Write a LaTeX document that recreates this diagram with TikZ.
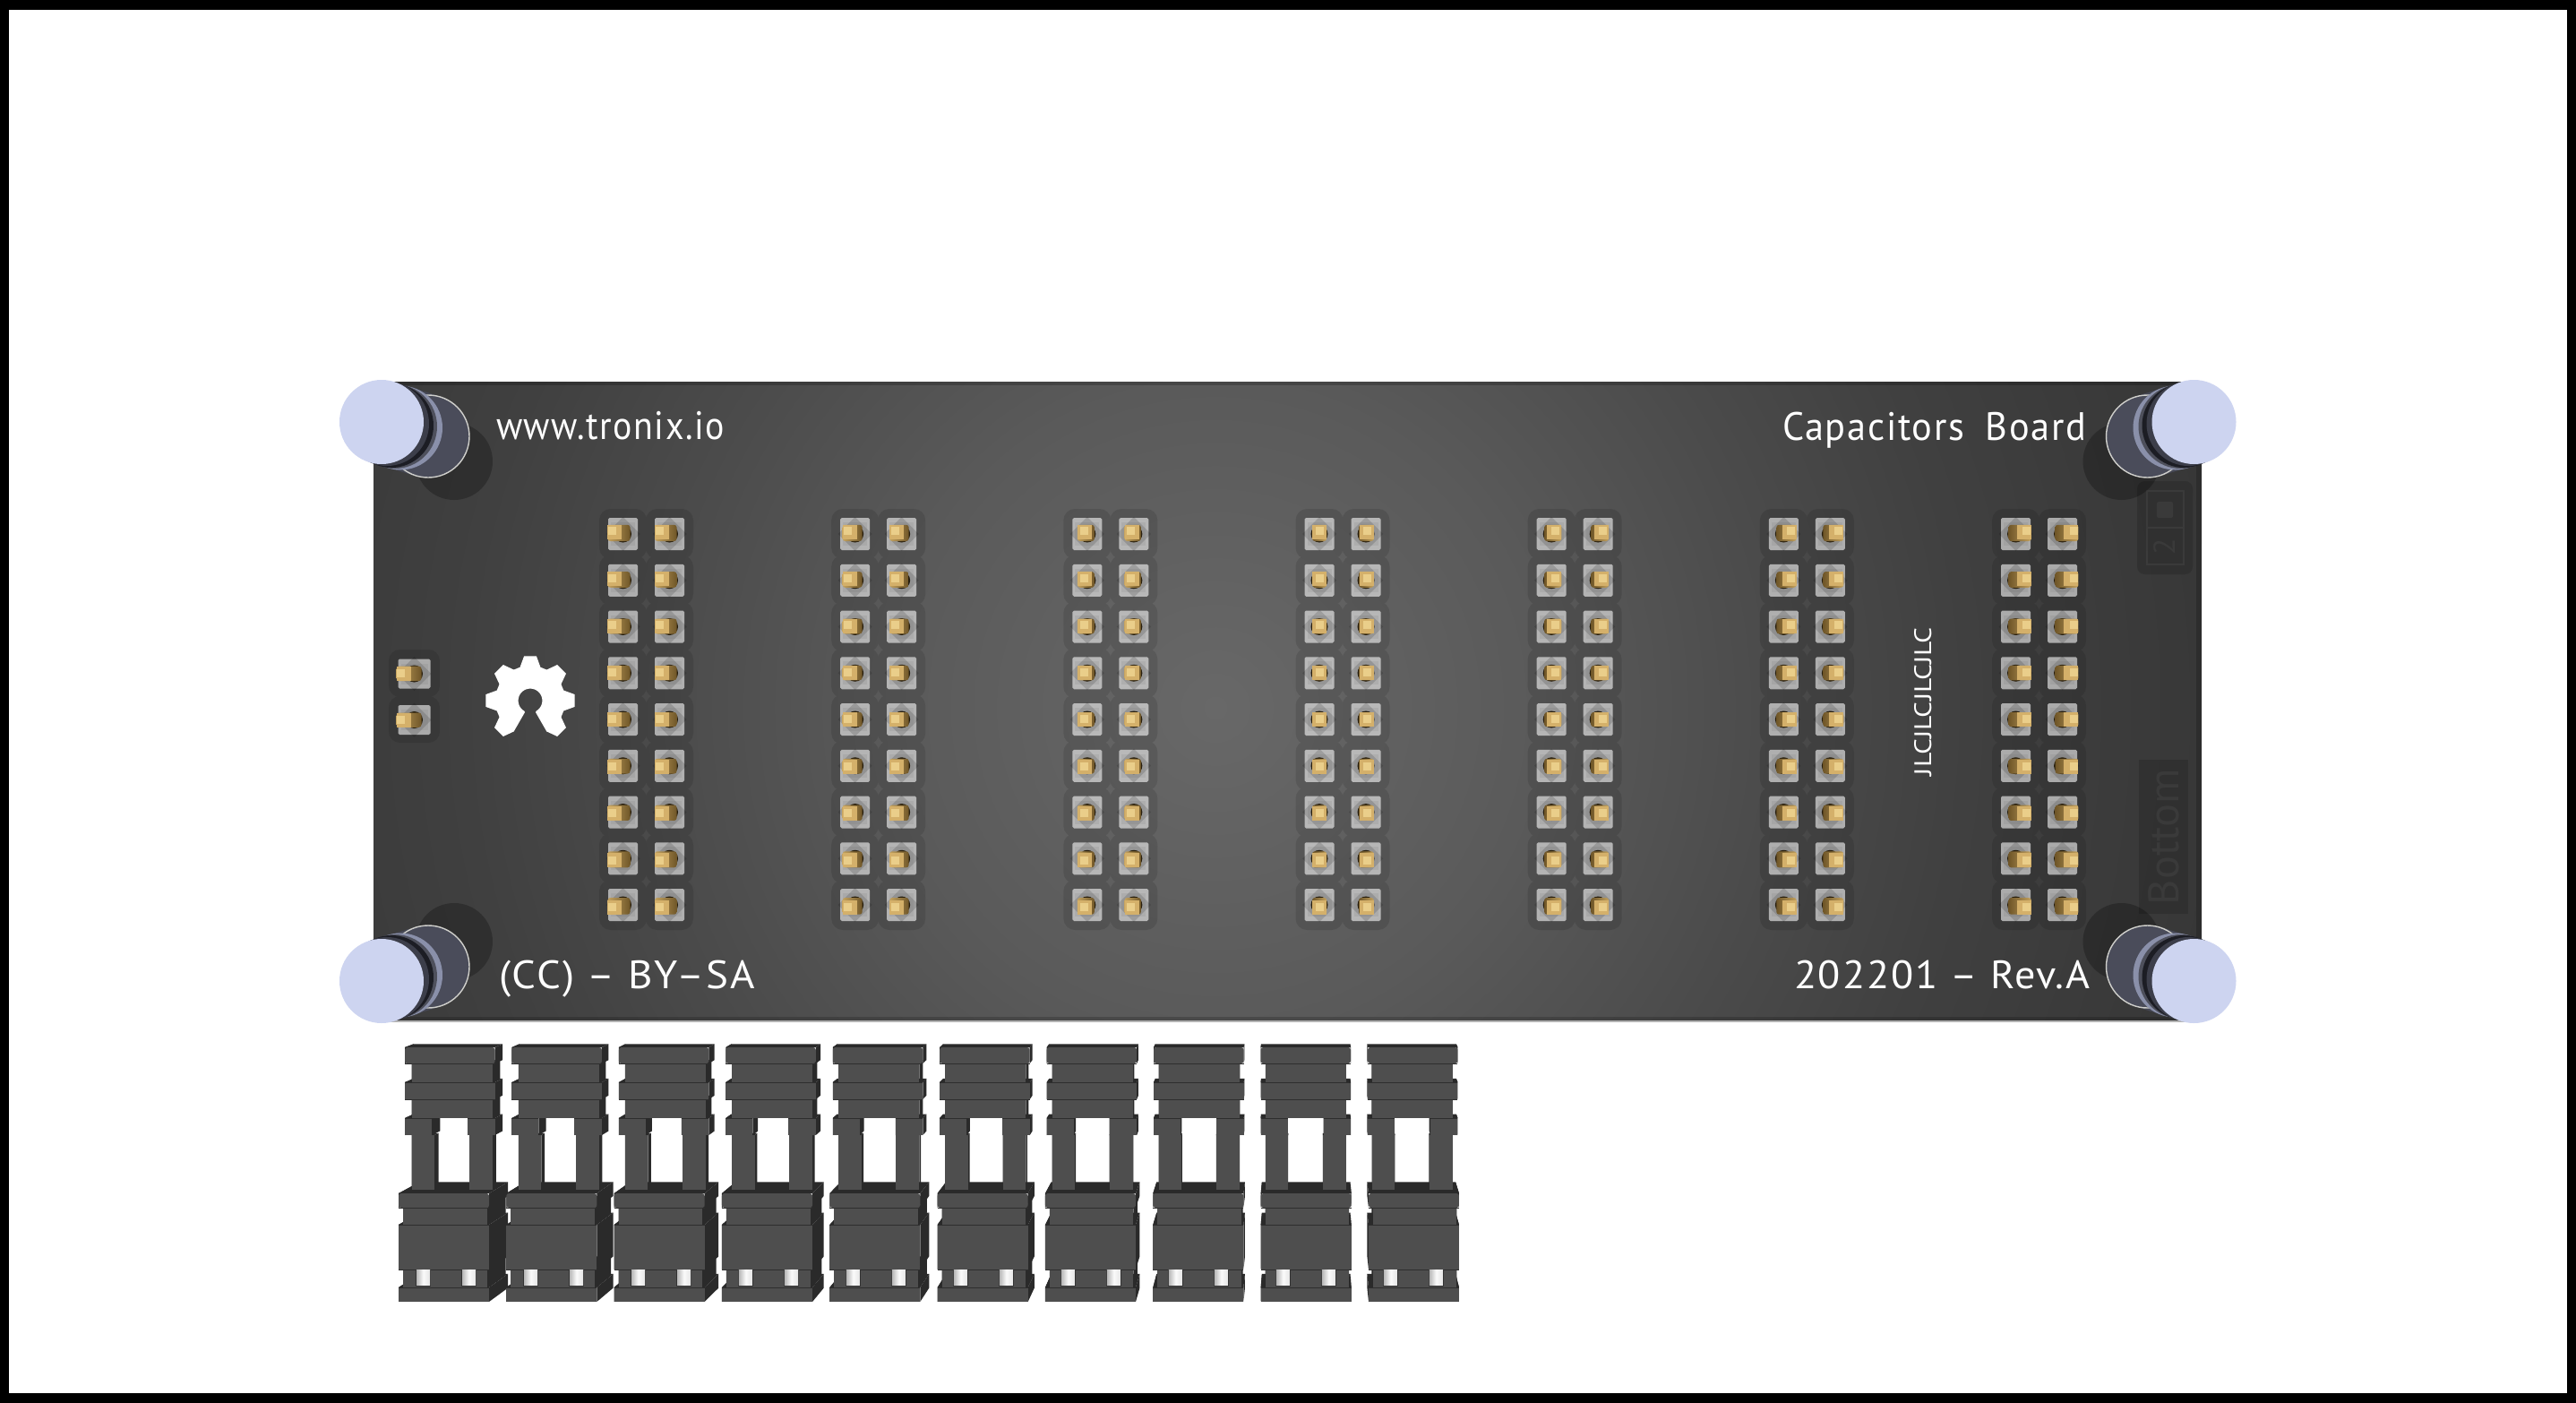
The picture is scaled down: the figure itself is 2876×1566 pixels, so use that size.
\documentclass[tikz,border=0pt]{standalone}
\usepackage{fontspec}
\usepackage{graphicx}
\setmainfont{PT Sans}
\newlength{\pxu}\setlength{\pxu}{0.25mm}
\definecolor{c0}{HTML}{686868}\definecolor{c1}{HTML}{5A5A5A}\definecolor{c2}{HTML}{4B4B4B}
\definecolor{c3}{HTML}{404040}\definecolor{c4}{HTML}{383838}\definecolor{c5}{HTML}{343434}
\definecolor{capblue}{HTML}{CDD4F0}\definecolor{frontgray}{HTML}{4E4E4E}\definecolor{sidegray}{HTML}{2A2A2A}
\definecolor{goldA}{HTML}{C4A25E}\definecolor{goldB}{HTML}{6F5628}\definecolor{goldC}{HTML}{D4B06A}\definecolor{goldD}{HTML}{EACE8A}
\pgfdeclareradialshading{boardglow}{\pgfpointorigin}{color(0bp)=(c0);color(7.5bp)=(c1);color(13bp)=(c2);color(17.5bp)=(c3);color(23bp)=(c4);color(25bp)=(c5);color(50bp)=(c5)}
\tikzset{
  silk/.style={text=white,inner sep=0pt,outer sep=0pt,font=\fontsize{31.4}{36}\selectfont\addfontfeature{LetterSpace=4}},
  ghost/.style={text=ghosttext,inner sep=0pt,outer sep=0pt},
  haloshade/.style={fill=black,fill opacity=.11},
  padface/.style={fill=white,fill opacity=.58},
  padinner/.style={fill=black,fill opacity=.05},
  paddiamond/.style={fill=black,fill opacity=.14},
  hull/.style={fill=sidegray},
  front/.style={fill=frontgray},
  seam/.style={draw=black!82,line width=.5pt},
}
\definecolor{ghosttext}{HTML}{3A3A3A}
\newcommand{\fitw}[2]{\resizebox{#1\pxu}{\height}{#2}}
% pad with gold pin: centre x, centre y, half width, half height
\newcommand{\padpin}[4]{%
  \fill[padface,rounded corners=1.2pt] ({#1-#3},{#2-#4}) rectangle ({#1+#3},{#2+#4});
  \fill[padinner] ({#1-#3+3},{#2-#4+5}) rectangle ({#1+#3-3},{#2+#4-5});
  \fill[paddiamond] ({#1-19},{#2}) -- ({#1},{#2-19}) -- ({#1+19},{#2}) -- ({#1},{#2+19}) -- cycle;
  \pgfmathsetmacro\pdx{.0118*(#1-1460)}\pgfmathsetmacro\pdy{.0118*(#2-783)}
  \pgfmathsetmacro\ptx{#1+\pdx}\pgfmathsetmacro\pty{#2+\pdy}
  \pgfmathsetmacro\pxl{min(#1,\ptx)-8}\pgfmathsetmacro\pxr{max(#1,\ptx)+8}
  \pgfmathsetmacro\pyt{min(#2,\pty)-8}\pgfmathsetmacro\pyb{max(#2,\pty)+8}
  \pgfmathsetmacro\brx{\ptx+.3*\pdx}\pgfmathsetmacro\bry{\pty+.3*\pdy-.5}
  \fill[goldB!35!black] (#1,#2) circle[radius=9.5];
  \ifdim\pdx pt<0pt
    \shade[left color=goldA,right color=goldB,rounded corners=2pt] (\pxl,\pyt) rectangle (\pxr,\pyb);
  \else
    \shade[left color=goldB,right color=goldA,rounded corners=2pt] (\pxl,\pyt) rectangle (\pxr,\pyb);
  \fi
  \fill[goldC] ({\ptx-8},{\pty-8}) rectangle ({\ptx+8},{\pty+8});
  \fill[goldD] ({\brx-4.5},{\bry-4.5}) rectangle ({\brx+4.5},{\bry+4.5});
}
% standoff: cap centre, mirror signs
\newcommand{\standoff}[4]{%
  \fill[black,opacity=.25] ({#1+#3*81},{#2+#4*44}) circle[radius=43];
  \foreach \t in {.9,.8,.7,.6,.5,.4} {\fill[fill=standhull] ({#1+#3*52*\t},{#2+#4*16*\t}) circle[radius=46.5];}
  \fill[fill=standbase,draw=standedge,line width=1pt] ({#1+#3*52},{#2+#4*16}) circle[radius=46];
  \fill[fill=standlilac] ({#1+#3*21},{#2+#4*6.5}) circle[radius=47];
  \fill[fill=standgrey] ({#1+#3*15},{#2+#4*5}) circle[radius=47];
  \fill[fill=standblack] ({#1+#3*11},{#2+#4*4}) circle[radius=47];
  \fill[fill=standdark] ({#1+#3*6},{#2+#4*2}) circle[radius=47];
  \fill[fill=capblue] (#1,#2) circle[radius=47];
}
\definecolor{standhull}{HTML}{454754}\definecolor{standbase}{HTML}{4A4C5A}\definecolor{standedge}{HTML}{CFCFCB}
\definecolor{standlilac}{HTML}{8A90AA}\definecolor{standgrey}{HTML}{4E505C}\definecolor{standblack}{HTML}{1C1D24}\definecolor{standdark}{HTML}{3C3E4A}
% extruded hull of a rectangle: x1,y1,x2,y2,k
\newcommand{\jhull}[5]{%
  \pgfmathsetmacro\bxa{#1+#5*(1460-#1)}\pgfmathsetmacro\bxb{#3+#5*(1460-#3)}
  \pgfmathsetmacro\bya{#2+#5*(783-#2)}\pgfmathsetmacro\byb{#4+#5*(783-#4)}
  \fill[hull] (#1,#2) -- (\bxa,\bya) -- (\bxb,\bya) -- (#3,#2) -- cycle;
  \fill[hull] (#3,#2) -- (\bxb,\bya) -- (\bxb,\byb) -- (#3,#4) -- cycle;
  \fill[hull] (#1,#2) -- (\bxa,\bya) -- (\bxa,\byb) -- (#1,#4) -- cycle;
}
\newcommand{\jfront}[4]{\fill[front] (#1,#2) rectangle (#3,#4);}
% jumper: index 0..9
\newcommand{\jumper}[1]{%
  \pgfmathsetmacro\lx{445+120.33*#1}\pgfmathsetmacro\ux{452+119.44*#1}
  \pgfmathsetmacro\sh{(9-#1)/9}
  \pgfmathsetmacro\lA{\lx+5}\pgfmathsetmacro\lB{\lx+98.5}\pgfmathsetmacro\lC{\lx+101}
  \pgfmathsetmacro\uA{\ux+5+2.7*\sh}\pgfmathsetmacro\uB{\ux+95+2.7*\sh}\pgfmathsetmacro\uC{\ux+100.5}
  % lower housing
  \jhull{\lx}{1332}{\lC}{1348}{.023}\jhull{\lA}{1348}{\lB}{1367}{.023}
  \jhull{\lx}{1367}{\lC}{1417}{.023}\jhull{\lA}{1417}{\lB}{1437}{.023}
  \jhull{\lx}{1437}{\lC}{1453}{.023}
  \fill[front,rounded corners=2pt] (\lx,1332) rectangle (\lC,1348);
  \jfront{\lA}{1348}{\lB}{1367}\jfront{\lx}{1367}{\lC}{1417}\jfront{\lA}{1417}{\lB}{1437}\jfront{\lx}{1437}{\lC}{1453}
  \draw[seam] (\lx,1348) -- (\lC,1348) (\lx,1367) -- (\lC,1367) (\lx,1417) -- (\lC,1417) (\lx,1437) -- (\lC,1437);
  % pin windows
  \foreach \wo in {17,68} {
    \pgfmathsetmacro\wa{\lx+\wo+3*\sh}\pgfmathsetmacro\wb{\wa+15}
    \fill[black!80] ({\wa-1},1417) rectangle ({\wb+1},1436);
    \shade[left color=black!28,right color=black!10,middle color=black!2] (\wa,1417) rectangle (\wb,1434.5);
  }
  % upper part: hulls
  \pgfmathsetmacro\lgA{\uA+25.5}\pgfmathsetmacro\lgB{\ux+69+3*\sh}\pgfmathsetmacro\lgC{\uB}
  \pgfmathsetmacro\bdA{\ux+30}\pgfmathsetmacro\bdB{\ux+70}
  \jhull{\uA}{1267}{\lgA}{1328}{.0045}\jhull{\lgB}{1267}{\lgC}{1328}{.0045}
  \jhull{\ux}{1248}{\bdA}{1267}{.0095}\jhull{\bdB}{1248}{\uC}{1267}{.0095}
  \jhull{\uA}{1227}{\uB}{1248}{.0095}\jhull{\ux}{1208}{\uC}{1227}{.0095}
  \jhull{\uA}{1187}{\uB}{1208}{.0095}\jhull{\ux}{1169}{\uC}{1187}{.0095}
  \jfront{\uA}{1267}{\lgA}{1328}\jfront{\lgB}{1267}{\lgC}{1328}
  \jfront{\ux}{1248}{\bdA}{1267}\jfront{\bdB}{1248}{\uC}{1267}
  \jfront{\uA}{1227}{\uB}{1248}\jfront{\ux}{1208}{\uC}{1227}
  \jfront{\uA}{1187}{\uB}{1208}
  \fill[front,rounded corners=2pt] (\ux,1169) rectangle (\uC,1187);
  \draw[seam] (\ux,1187) -- (\uC,1187) (\ux,1208) -- (\uC,1208) (\ux,1227) -- (\uC,1227) (\ux,1248) -- (\bdA,1248) (\bdB,1248) -- (\uC,1248);
}
\begin{document}
\begin{tikzpicture}[x=0.25mm,y=-0.25mm]
\useasboundingbox (0,0) rectangle (2876,1566);
\fill[black] (0,0) rectangle (2876,1566);
\fill[white] (10,11) rectangle (2866,1555);
% board
\begin{scope}
  \clip (417,426) rectangle (2458,1140);
  \shade[shading=boardglow] (1357,790) circle[radius=1200];
  \fill[black,opacity=.22] (417,426) rectangle (2458,430);
  \fill[black,opacity=.18] (417,1135) rectangle (2458,1140);
  \fill[black,opacity=.18] (2452,426) rectangle (2458,1140);
\end{scope}
\draw[black!30,line width=.8pt] (417,1140) -- (2458,1140);
% faint bottom-side marks
\fill[black,opacity=.14,rounded corners=6pt] (2386,537) rectangle (2448,641);
\draw[white,opacity=.05,line width=1pt] (2397,548) rectangle (2438,630) (2397,589) -- (2438,589);
\fill[white,opacity=.05,rounded corners=1.5pt] (2408,560) rectangle (2426,578);
\node[ghost,rotate=90,anchor=base,font=\fontsize{24}{28}\selectfont] (ghosttwo) at (2428,610) {2};
\fill[black,opacity=.14] (2388,848) rectangle (2443,1020);
\node[ghost,rotate=90,anchor=base west,font=\fontsize{34}{38}\selectfont] (ghostbottom) at (2432,1010) {\fitw{152}{Bottom}};
% pad halos
\fill[haloshade,rounded corners=9pt]
  \foreach \g in {0,...,6} \foreach \c in {0,1} \foreach \r in {0,...,8} {
    ({695.5+259.17*\g+52*\c-26.5},{596+51.75*\r-28}) rectangle ({695.5+259.17*\g+52*\c+26.5},{596+51.75*\r+28})
  }
  (434,725) rectangle (491,778) (434,777) rectangle (491,829);
% pads and pins
\foreach \g in {0,...,6} \foreach \c in {0,1} \foreach \r in {0,...,8} {
  \pgfmathsetmacro\qx{695.5+259.17*\g+52*\c}\pgfmathsetmacro\qy{596+51.75*\r}
  \padpin{\qx}{\qy}{16.5}{18}
}
\padpin{462.5}{752}{18}{16.5}
\padpin{462.5}{803.5}{18}{16.5}
% gear logo
\fill[white] ({592+39*cos(62)},{782+39*sin(62)})
  \foreach \a in {45,0,-45,-90,-135,180,135} {
    -- ({592+39*cos(\a+17)},{782+39*sin(\a+17)})
    -- ({592+50*cos(\a+8)},{782+50*sin(\a+8)})
    -- ({592+50*cos(\a-8)},{782+50*sin(\a-8)})
    -- ({592+39*cos(\a-17)},{782+39*sin(\a-17)})
  }
  -- (586,795)
  \foreach \a in {120,130,...,420} { -- ({592+13.4*cos(\a)},{782+13.4*sin(\a)}) }
  -- (598,795) -- cycle;
% silk text
\node[silk,anchor=base west] (tronix) at (554,490) {\fitw{255}{www.tronix.io}};
\node[silk,anchor=base west] (capboard) at (1990,491) {\fitw{339}{Capacitors \hspace{.25em}Board}};
\node[silk,anchor=base west] (ccby) at (557,1103) {\fitw{286}{(CC) – BY–SA}};
\node[silk,anchor=base west] (revision) at (2003,1103) {\fitw{330}{202201 – Rev.A}};
\node[silk,rotate=90,anchor=base west,font=\fontsize{19}{22}\selectfont] (jlc) at (2156,866) {\fitw{166}{JLCJLCJLCJLC}};
% standoffs
\standoff{426}{471}{1}{1}
\standoff{2449.5}{471}{-1}{1}
\standoff{426}{1095}{1}{-1}
\standoff{2449.5}{1095}{-1}{-1}
% jumpers
\foreach \j in {0,...,9} {\jumper{\j}}
\end{tikzpicture}
\end{document}
